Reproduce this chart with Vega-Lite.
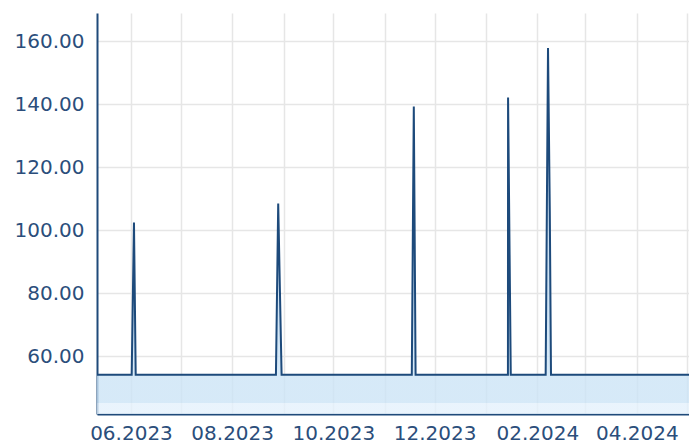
{
  "$schema": "https://vega.github.io/schema/vega-lite/v6.json",
  "width": 592,
  "height": 401,
  "autosize": {"type": "none"},
  "padding": {"left": 97, "top": 13, "right": 0, "bottom": 27},
  "config": {"view": {"stroke": null}, "font": "DejaVu Sans"},
  "data": {
    "values": [
      {"date": "2023-05-11T12:00:00Z", "value": 54.2},
      {"date": "2023-06-01T10:00:00Z", "value": 54.2},
      {"date": "2023-06-02T19:00:00Z", "value": 102.5},
      {"date": "2023-06-03T20:00:00Z", "value": 54.2},
      {"date": "2023-08-27T09:00:00Z", "value": 54.2},
      {"date": "2023-08-28T18:00:00Z", "value": 108.5},
      {"date": "2023-08-29T19:00:00Z", "value": 80.6},
      {"date": "2023-08-30T19:00:00Z", "value": 54.2},
      {"date": "2023-11-17T07:00:00Z", "value": 54.2},
      {"date": "2023-11-18T12:00:00Z", "value": 139.3},
      {"date": "2023-11-19T14:00:00Z", "value": 54.2},
      {"date": "2024-01-14T06:00:00Z", "value": 54.2},
      {"date": "2024-01-14T08:00:00Z", "value": 142.2},
      {"date": "2024-01-15T23:00:00Z", "value": 54.2},
      {"date": "2024-02-06T00:00:00Z", "value": 54.2},
      {"date": "2024-02-07T10:00:00Z", "value": 157.9},
      {"date": "2024-02-08T12:00:00Z", "value": 105.5},
      {"date": "2024-02-09T05:00:00Z", "value": 54.2},
      {"date": "2024-05-02T10:00:00Z", "value": 54.2}
    ]
  },
  "encoding": {
    "x": {
      "field": "date",
      "type": "temporal",
      "scale": {
        "type": "utc",
        "domain": [
          {"year": 2023, "month": 5, "date": 11, "hours": 12, "utc": true},
          {"year": 2024, "month": 5, "date": 2, "hours": 10, "utc": true}
        ]
      },
      "axis": {
        "title": null,
        "values": [
          {"year": 2023, "month": 6, "date": 1, "utc": true},
          {"year": 2023, "month": 7, "date": 1, "utc": true},
          {"year": 2023, "month": 8, "date": 1, "utc": true},
          {"year": 2023, "month": 9, "date": 1, "utc": true},
          {"year": 2023, "month": 10, "date": 1, "utc": true},
          {"year": 2023, "month": 11, "date": 1, "utc": true},
          {"year": 2023, "month": 12, "date": 1, "utc": true},
          {"year": 2024, "month": 1, "date": 1, "utc": true},
          {"year": 2024, "month": 2, "date": 1, "utc": true},
          {"year": 2024, "month": 3, "date": 1, "utc": true},
          {"year": 2024, "month": 4, "date": 1, "utc": true},
          {"year": 2024, "month": 5, "date": 1, "utc": true}
        ],
        "labelExpr": "utcmonth(datum.value) % 2 == 1 ? utcFormat(datum.value, '%m.%Y') : ''",
        "grid": true,
        "gridColor": "#e6e6e6",
        "gridWidth": 1.5,
        "ticks": false,
        "domainColor": "#1f4a7a",
        "domainWidth": 2,
        "labelFontSize": 20,
        "labelColor": "#2b4e7b",
        "labelPadding": 9,
        "labelOverlap": false,
        "labelFlush": false,
        "labelBound": false
      }
    },
    "y": {
      "field": "value",
      "type": "quantitative",
      "scale": {"domain": [41.7, 169], "zero": false, "nice": false},
      "axis": {
        "title": null,
        "values": [60, 80, 100, 120, 140, 160],
        "format": ".2f",
        "grid": true,
        "gridColor": "#e6e6e6",
        "gridWidth": 1.5,
        "ticks": false,
        "domainColor": "#1f4a7a",
        "domainWidth": 2,
        "labelFontSize": 20,
        "labelColor": "#2b4e7b",
        "labelPadding": 13
      }
    }
  },
  "layer": [
    {
      "mark": {
        "type": "area",
        "clip": true,
        "color": {
          "gradient": "linear",
          "x1": 0, "y1": 0, "x2": 0, "y2": 1,
          "stops": [
            {"offset": 0, "color": "rgba(170,200,232,0.85)"},
            {"offset": 0.893, "color": "rgba(204,228,246,0.8)"},
            {"offset": 0.969, "color": "rgba(204,228,246,0.8)"},
            {"offset": 0.971, "color": "rgba(228,241,252,0.8)"},
            {"offset": 1, "color": "rgba(228,241,252,0.8)"}
          ]
        }
      },
      "encoding": {"y2": {"datum": 41.7}}
    },
    {
      "mark": {"type": "line", "clip": true, "color": "#1d4a7b", "strokeWidth": 2}
    }
  ]
}
